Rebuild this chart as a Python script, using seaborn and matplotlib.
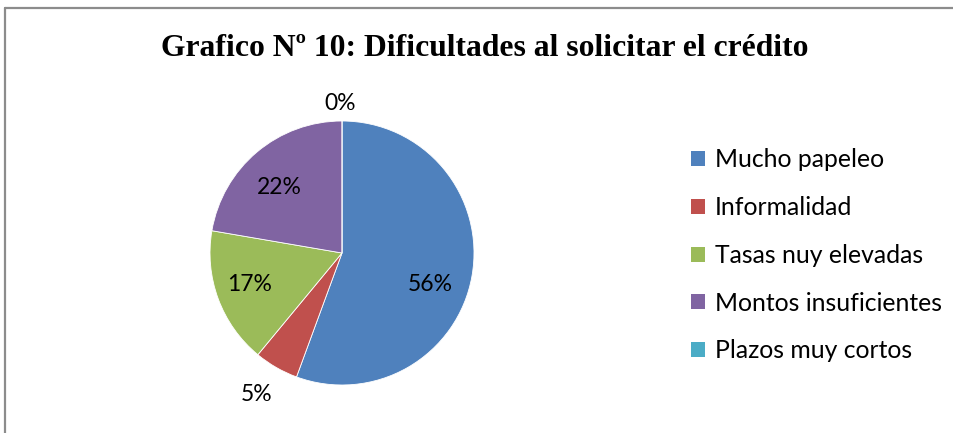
import matplotlib
matplotlib.use("Agg")
import matplotlib.pyplot as plt
from matplotlib.lines import Line2D
from matplotlib.patches import Patch
from matplotlib.transforms import offset_copy
import numpy as np
import seaborn as sns

sns.set_theme(style="white")
plt.rcParams['font.family'] = ['Lato', 'DejaVu Sans']

categories = ["Mucho papeleo", "Informalidad", "Tasas nuy elevadas",
              "Montos insuficientes", "Plazos muy cortos"]
values = [55.6, 5.4, 16.7, 22.3, 0.0]
colors = ["#4F81BD", "#C0504D", "#9BBB59", "#8064A2", "#4BACC6"]
title = "Grafico Nº 10: Dificultades al solicitar el crédito"

# small label nudges (pixels) to mimic the original label placement
label_nudge = [(-5, -15), (-5, -2), (-3, 2), (-1, -7), (-2, -2)]

W, H = 954, 433
fig = plt.figure(figsize=(W / 100, H / 100), dpi=100)
fig.patch.set_facecolor("white")

# frame (top + left visible)
fig.add_artist(Line2D([5.5 / W, 5.5 / W], [0, 1 - 7.5 / H], transform=fig.transFigure,
                      color="#8c8c8c", lw=1.6))
fig.add_artist(Line2D([5.5 / W, 1], [1 - 7.5 / H, 1 - 7.5 / H], transform=fig.transFigure,
                      color="#8c8c8c", lw=1.6))

cx, cy, r = 342, 253, 132
ax = fig.add_axes([(cx - r) / W, (H - cy - r) / H, 2 * r / W, 2 * r / H])
wedges, _ = ax.pie(values, colors=colors, startangle=90, counterclock=False,
                   radius=1.0, wedgeprops=dict(linewidth=0.6, edgecolor="white"))
ax.set_xlim(-1, 1)
ax.set_ylim(-1, 1)
ax.set_aspect("auto")
ax.axis("off")

total = sum(values)
for w, v, (nx, ny) in zip(wedges, values, label_nudge):
    ang = np.deg2rad((w.theta1 + w.theta2) / 2)
    pct = v / total * 100
    dist = 0.72 if pct >= 10 else (1.22 if pct > 0 else 1.15)
    tr = offset_copy(ax.transData, fig=fig, x=nx, y=ny, units="dots")
    ax.text(dist * np.cos(ang), dist * np.sin(ang), f"{round(pct):d}%",
            ha="center", va="center", fontsize=16.5, color="black", transform=tr)

fig.text(485 / W, 1 - 49 / H, title, ha="center", va="center", color="black",
         fontsize=22.8, fontweight="bold", family="Liberation Serif")

handles = [Patch(facecolor=c, edgecolor="none") for c in colors]
leg = fig.legend(handles, categories, loc="upper left",
                 bbox_to_anchor=(679 / W, 1 - 136 / H), frameon=False,
                 fontsize=17.8, handlelength=0.55, handleheight=0.55,
                 handletextpad=0.4, labelspacing=1.0, borderpad=0,
                 labelcolor="black")

fig.savefig("out.png", dpi=100, facecolor="white")
